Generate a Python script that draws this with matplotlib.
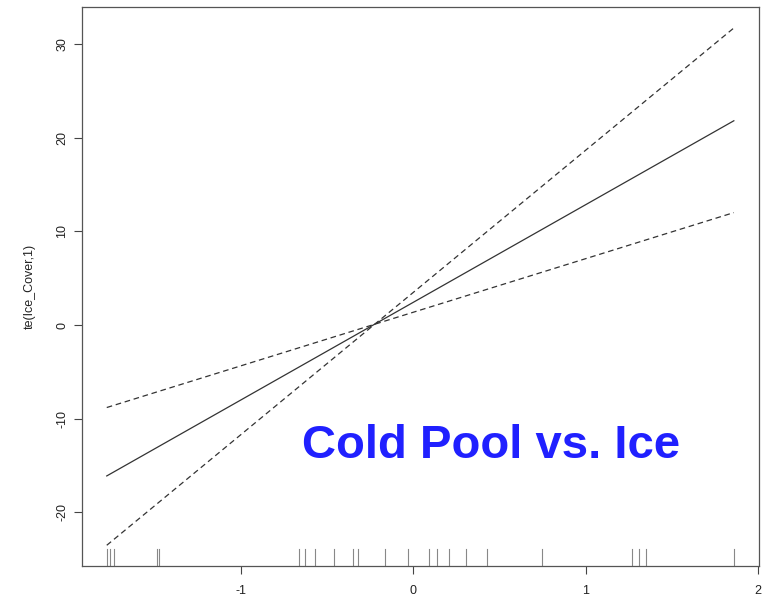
import numpy as np
import matplotlib
matplotlib.use("Agg")
import matplotlib.pyplot as plt

# covariate values shown as rug ticks along the x axis
ice_cover = [-1.779, -1.762, -1.736, -1.490, -1.473, -0.664, -0.630, -0.568,
             -0.463, -0.349, -0.323, -0.163, -0.029, 0.089, 0.140, 0.208,
             0.308, 0.427, 0.748, 1.271, 1.312, 1.353, 1.860]

# fitted smooth and the two dashed se lines at the ends of the covariate range
x_ends = [-1.779, 1.860]
fit = [-16.1, 21.8]
band_a = [-8.8, 12.0]
band_b = [-23.5, 31.7]

xticks = [-1, 0, 1, 2]
yticks = [-20, -10, 0, 10, 20, 30]

plt.rcParams['font.family'] = ['Liberation Sans', 'DejaVu Sans']
plt.rcParams['axes.unicode_minus'] = False

fig = plt.figure(figsize=(7.69, 6.03), dpi=100)
ax = fig.add_axes([0.1062, 0.0614, 0.8807, 0.9265])

ax.plot(x_ends, fit, color='#333333', lw=0.9)
ax.plot(x_ends, band_a, color='#333333', lw=0.9, dashes=(4.5, 3))
ax.plot(x_ends, band_b, color='#333333', lw=0.9, dashes=(4.5, 3))

# R-style 4% padding on both axes
xr = max(ice_cover) - min(ice_cover)
ax.set_xlim(min(ice_cover) - 0.04 * xr, max(ice_cover) + 0.04 * xr)
ymin = min(band_a + band_b)
ymax = max(band_a + band_b)
yr = ymax - ymin
ax.set_ylim(ymin - 0.04 * yr, ymax + 0.04 * yr)

# rug
for v in ice_cover:
    ax.axvline(v, ymin=0, ymax=0.03, color='#888888', lw=0.8)

ax.set_xticks(xticks)
ax.set_yticks(yticks)
ax.tick_params(direction='out', length=6, width=0.8, colors='#444444',
               labelcolor='#222222', labelsize=9)
ax.tick_params(axis='x', pad=8)
for lab in ax.get_yticklabels():
    lab.set_rotation(90)
    lab.set_va('center')
for s in ax.spines.values():
    s.set_color('#555555')
    s.set_linewidth(0.9)

ax.set_ylabel('te(Ice_Cover,1)', fontsize=9, color='#222222', labelpad=15)

ax.text(0.605, 0.215, 'Cold Pool vs. Ice', transform=ax.transAxes,
        ha='center', va='center', fontsize=34, fontweight='bold',
        color='#2020ff')

fig.savefig('out.png', dpi=100)
